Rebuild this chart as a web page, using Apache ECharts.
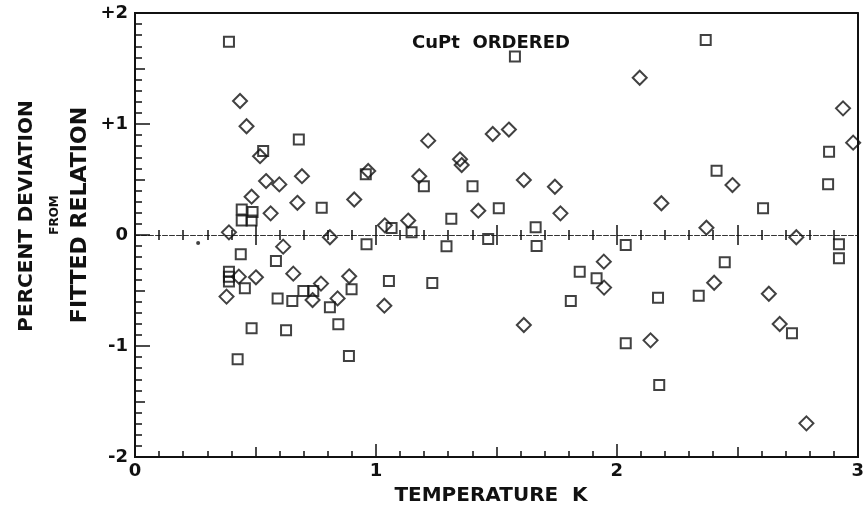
<!DOCTYPE html>
<html><head><meta charset="utf-8">
<script src="https://cdn.jsdelivr.net/npm/echarts@6/dist/echarts.min.js"></script>
<style>html,body{margin:0;padding:0;background:#fff}#c{width:867px;height:514px}</style>
</head><body><div id="c"></div>
<script>
const titleText = 'CuPt  ORDERED';
const xTitle = 'TEMPERATURE  K';
const yTitleLines = ['PERCENT DEVIATION', 'FROM', 'FITTED RELATION'];
const xTickValues = [0, 1, 2, 3];
const xTickLabels = ['0', '1', '2', '3'];
const yTickValues = [-2, -1, 0, 1, 2];
const yTickLabels = ['-2', '-1', '0', '+1', '+2'];

const squares = [
  [0.39,1.74],[0.68,0.86],[0.532,0.757],[0.958,0.547],[0.443,0.23],[0.488,0.207],
  [0.443,0.13],[0.484,0.13],[0.775,0.246],[0.439,-0.174],[0.585,-0.234],[0.961,-0.084],
  [0.39,-0.33],[0.39,-0.375],[0.39,-0.42],[0.456,-0.48],[0.592,-0.573],[0.653,-0.594],
  [0.699,-0.505],[0.74,-0.505],[0.809,-0.652],[0.899,-0.489],[0.484,-0.84],[0.627,-0.859],
  [0.844,-0.805],[0.426,-1.12],[0.888,-1.09],[1.577,1.607],[1.199,0.44],[1.401,0.44],
  [1.51,0.24],[1.313,0.147],[1.663,0.069],[1.065,0.063],[1.148,0.024],[1.466,-0.035],
  [1.293,-0.102],[1.667,-0.099],[1.846,-0.33],[1.916,-0.39],[1.054,-0.414],[1.234,-0.432],
  [1.809,-0.595],[2.369,1.757],[2.881,0.75],[2.414,0.579],[2.877,0.457],[2.607,0.24],
  [2.037,-0.09],[2.922,-0.084],[2.922,-0.21],[2.448,-0.246],[2.171,-0.565],[2.34,-0.547],
  [2.727,-0.886],[2.037,-0.976],[2.176,-1.351]
];
const diamonds = [
  [0.436,1.207],[0.463,0.98],[0.519,0.71],[0.968,0.577],[0.544,0.486],[0.599,0.456],
  [0.693,0.53],[0.484,0.345],[0.674,0.29],[0.563,0.195],[0.91,0.32],[0.39,0.024],
  [0.809,-0.02],[0.615,-0.105],[0.431,-0.375],[0.502,-0.381],[0.657,-0.348],[0.38,-0.555],
  [0.737,-0.586],[0.772,-0.438],[0.841,-0.571],[0.889,-0.372],[1.217,0.85],[1.485,0.91],
  [1.552,0.95],[1.349,0.682],[1.356,0.63],[1.18,0.53],[1.614,0.495],[1.743,0.435],
  [1.425,0.219],[1.766,0.195],[1.134,0.13],[1.037,0.087],[1.946,-0.24],[1.947,-0.474],
  [1.035,-0.637],[1.614,-0.811],[2.095,1.417],[2.939,1.141],[2.981,0.832],[2.48,0.45],
  [2.185,0.286],[2.372,0.066],[2.745,-0.02],[2.404,-0.43],[2.631,-0.529],[2.676,-0.802],
  [2.14,-0.949],[2.787,-1.697]
];
const dots = [[0.262,-0.072]];

const FONT = 'DejaVu Sans';
const BLACK = '#111';
const tickLbl = {fontFamily: FONT, fontWeight: 'bold', fontSize: 18, color: BLACK};
const noLbl = {show: false};
const tickStyle = {color: BLACK, width: 1.5};
const frameLine = {color: BLACK, width: 2};
const zeroLine = {color: '#333', width: 1, type: [4, 3]};

function xAx(extra) {
  return Object.assign({type: 'value', min: 0, max: 3, splitLine: {show: false}, axisLabel: noLbl}, extra);
}
function yAx(extra) {
  return Object.assign({type: 'value', min: -2, max: 2, splitLine: {show: false}, axisLabel: noLbl}, extra);
}
function tickOnly(pos, interval, inside, len, onZero) {
  return {position: pos, interval: interval,
    axisLine: {show: true, onZero: !!onZero, onZeroAxisIndex: 0, lineStyle: onZero ? zeroLine : frameLine},
    axisTick: {show: true, inside: inside, length: len, lineStyle: tickStyle}};
}

const chart = echarts.init(document.getElementById('c'), null, {renderer: 'canvas'});
chart.setOption({
  animation: false,
  backgroundColor: '#fff',
  grid: {left: 135, right: 9, top: 13, bottom: 57, containLabel: false},
  xAxis: [
    xAx({position: 'bottom', interval: 1,
      axisLine: {onZero: false, lineStyle: frameLine},
      axisTick: {inside: true, length: 13, lineStyle: tickStyle},
      axisLabel: Object.assign({}, tickLbl, {margin: 5,
        formatter: v => { const i = xTickValues.indexOf(Math.round(v * 1000) / 1000); return i >= 0 ? xTickLabels[i] : ''; }})}),
    xAx(tickOnly('bottom', 0.5, true, 10, false)),
    xAx(tickOnly('bottom', 0.1, true, 6, false)),
    xAx({position: 'top', axisLine: {onZero: false, lineStyle: frameLine}, axisTick: {show: false}}),
    xAx(tickOnly('bottom', 0.1, true, 5, true)),
    xAx(tickOnly('bottom', 0.1, false, 5, true)),
    xAx(tickOnly('bottom', 0.5, true, 10, true)),
    xAx(tickOnly('bottom', 0.5, false, 10, true))
  ],
  yAxis: [
    yAx({position: 'left', interval: 1,
      axisLine: {onZero: false, lineStyle: frameLine},
      axisTick: {inside: true, length: 15, lineStyle: tickStyle},
      axisLabel: Object.assign({}, tickLbl, {margin: 7,
        formatter: v => { const i = yTickValues.indexOf(Math.round(v)); return i >= 0 ? yTickLabels[i] : ''; }})}),
    yAx(tickOnly('left', 0.5, true, 10, false)),
    yAx(tickOnly('left', 0.1, true, 7, false)),
    yAx({position: 'right', axisLine: {onZero: false, lineStyle: frameLine}, axisTick: {show: false}})
  ],
  series: [
    {type: 'scatter', name: 'squares', data: squares, xAxisIndex: 0, yAxisIndex: 0,
      symbol: 'rect', symbolSize: 10, clip: false,
      itemStyle: {color: 'rgba(0,0,0,0)', borderColor: BLACK, borderWidth: 2}},
    {type: 'scatter', name: 'diamonds', data: diamonds, xAxisIndex: 0, yAxisIndex: 0,
      symbol: 'diamond', symbolSize: 14, clip: false,
      itemStyle: {color: 'rgba(0,0,0,0)', borderColor: BLACK, borderWidth: 2}},
    {type: 'scatter', name: 'dots', data: dots, xAxisIndex: 0, yAxisIndex: 0,
      symbol: 'circle', symbolSize: 4, itemStyle: {color: BLACK}}
  ],
  graphic: [
    {type: 'text', x: 491, y: 43, style: {text: titleText, font: 'bold 18px "DejaVu Sans"', fill: BLACK, align: 'center', verticalAlign: 'middle'}},
    {type: 'text', x: 491, y: 496, style: {text: xTitle, font: 'bold 20px "DejaVu Sans"', fill: BLACK, align: 'center', verticalAlign: 'middle'}},
    {type: 'text', x: 27, y: 216, rotation: Math.PI / 2, style: {text: yTitleLines[0], font: 'bold 20px "DejaVu Sans"', fill: BLACK, align: 'center', verticalAlign: 'middle'}},
    {type: 'text', x: 55, y: 215, rotation: Math.PI / 2, style: {text: yTitleLines[1], font: 'bold 12px "DejaVu Sans"', fill: BLACK, align: 'center', verticalAlign: 'middle'}},
    {type: 'text', x: 80, y: 215, rotation: Math.PI / 2, style: {text: yTitleLines[2], font: 'bold 22px "DejaVu Sans"', fill: BLACK, align: 'center', verticalAlign: 'middle'}}
  ]
});
</script>
</body></html>
